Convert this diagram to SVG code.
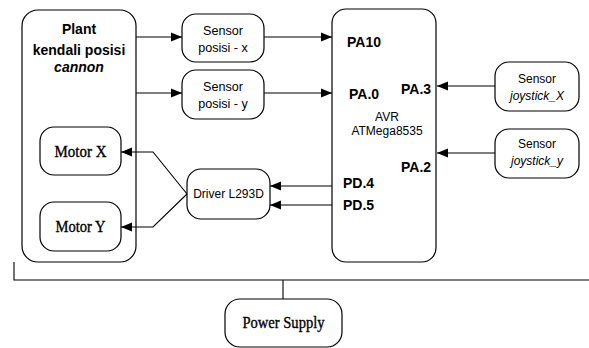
<svg xmlns="http://www.w3.org/2000/svg" width="589" height="348" viewBox="0 0 589 348">
  <style>
    .box { fill: #fff; stroke: #000; stroke-width: 1.2; }
    .wire { fill: none; stroke: #000; stroke-width: 1.1; }
    .sans { font-family: "Liberation Sans", Arial, sans-serif; fill: #000; }
    .serif { font-family: "Liberation Serif", "Times New Roman", serif; fill: #000; font-size: 16px; stroke: #000; stroke-width: 0.35; }
    .pin { font-size: 14px; font-weight: bold; }
    .lbl { font-size: 12px; }
    .lbl2 { font-size: 12.6px; }
    .mid { text-anchor: middle; }
  </style>
  <defs>
    <marker id="arrow" viewBox="0 0 11 10" refX="11" refY="5" markerWidth="11" markerHeight="10" markerUnits="userSpaceOnUse" orient="auto">
      <path d="M0,0.5 L11,5 L0,9.5 z" fill="#000"/>
    </marker>
  </defs>

  <!-- Plant block -->
  <g id="plant">
    <rect class="box" x="22" y="10" width="114" height="252" rx="16"/>
    <text class="sans mid" x="79" y="34" font-size="14" font-weight="bold">Plant</text>
    <text class="sans mid" x="79" y="55" font-size="14" font-weight="bold">kendali posisi</text>
    <text class="sans mid" x="79" y="72" font-size="14" font-weight="bold" font-style="italic">cannon</text>
  </g>
  <g id="motor-x">
    <rect class="box" x="40" y="127" width="81" height="48" rx="14"/>
    <text class="serif mid" x="80.5" y="157" textLength="52" lengthAdjust="spacingAndGlyphs">Motor X</text>
  </g>
  <g id="motor-y">
    <rect class="box" x="40" y="202" width="81" height="49" rx="14"/>
    <text class="serif mid" x="80.5" y="232" textLength="50" lengthAdjust="spacingAndGlyphs">Motor Y</text>
  </g>

  <!-- Position sensors -->
  <g id="sensor-posisi-x">
    <rect class="box" x="182" y="14" width="82" height="48" rx="14"/>
    <text class="sans lbl2 mid" x="223" y="35">Sensor</text>
    <text class="sans lbl2 mid" x="223" y="52">posisi - x</text>
  </g>
  <g id="sensor-posisi-y">
    <rect class="box" x="182" y="70" width="82" height="49" rx="14"/>
    <text class="sans lbl2 mid" x="223" y="91">Sensor</text>
    <text class="sans lbl2 mid" x="223" y="108">posisi - y</text>
  </g>

  <!-- Motor driver -->
  <g id="driver">
    <rect class="box" x="187" y="169" width="83" height="50" rx="14"/>
    <text class="sans lbl mid" x="228.5" y="198">Driver L293D</text>
  </g>

  <!-- Microcontroller -->
  <g id="avr">
    <rect class="box" x="332" y="9" width="104" height="253" rx="14"/>
    <text class="sans pin" x="347" y="47">PA10</text>
    <text class="sans pin" x="349" y="99">PA.0</text>
    <text class="sans pin" x="401" y="94">PA.3</text>
    <text class="sans lbl mid" x="387" y="121">AVR</text>
    <text class="sans lbl mid" x="387" y="135">ATMega8535</text>
    <text class="sans pin" x="401" y="172">PA.2</text>
    <text class="sans pin" x="343" y="188">PD.4</text>
    <text class="sans pin" x="343" y="210">PD.5</text>
  </g>

  <!-- Joystick sensors -->
  <g id="sensor-joystick-x">
    <rect class="box" x="495" y="62" width="84" height="49" rx="14"/>
    <text class="sans lbl mid" x="537" y="83">Sensor</text>
    <text class="sans lbl mid" x="537" y="100" font-style="italic">joystick_X</text>
  </g>
  <g id="sensor-joystick-y">
    <rect class="box" x="495" y="129" width="84" height="49" rx="14"/>
    <text class="sans lbl mid" x="537" y="148">Sensor</text>
    <text class="sans lbl mid" x="537" y="165" font-style="italic">joystick_y</text>
  </g>

  <!-- Power supply -->
  <g id="power-supply">
    <rect class="box" x="225" y="299" width="117" height="48" rx="15"/>
    <text class="serif mid" x="283.5" y="328" textLength="82" lengthAdjust="spacingAndGlyphs">Power Supply</text>
  </g>

  <!-- Connectors -->
  <g id="connectors">
    <line class="wire" x1="136" y1="37" x2="182" y2="37" marker-end="url(#arrow)"/>
    <line class="wire" x1="136" y1="93" x2="182" y2="93" marker-end="url(#arrow)"/>
    <line class="wire" x1="264" y1="37" x2="332" y2="37" marker-end="url(#arrow)"/>
    <line class="wire" x1="264" y1="93" x2="332" y2="93" marker-end="url(#arrow)"/>
    <line class="wire" x1="495" y1="86" x2="437" y2="86" marker-end="url(#arrow)"/>
    <line class="wire" x1="495" y1="153" x2="437" y2="153" marker-end="url(#arrow)"/>
    <line class="wire" x1="332" y1="186" x2="270" y2="186" marker-end="url(#arrow)"/>
    <line class="wire" x1="332" y1="205" x2="270" y2="205" marker-end="url(#arrow)"/>
    <polyline class="wire" points="187,194 153,152 121,152" marker-end="url(#arrow)"/>
    <polyline class="wire" points="187,194 153,227 121,227" marker-end="url(#arrow)"/>
    <polyline class="wire" points="14,262 14,280 589,280"/>
    <line class="wire" x1="283" y1="280" x2="283" y2="299"/>
  </g>
</svg>
